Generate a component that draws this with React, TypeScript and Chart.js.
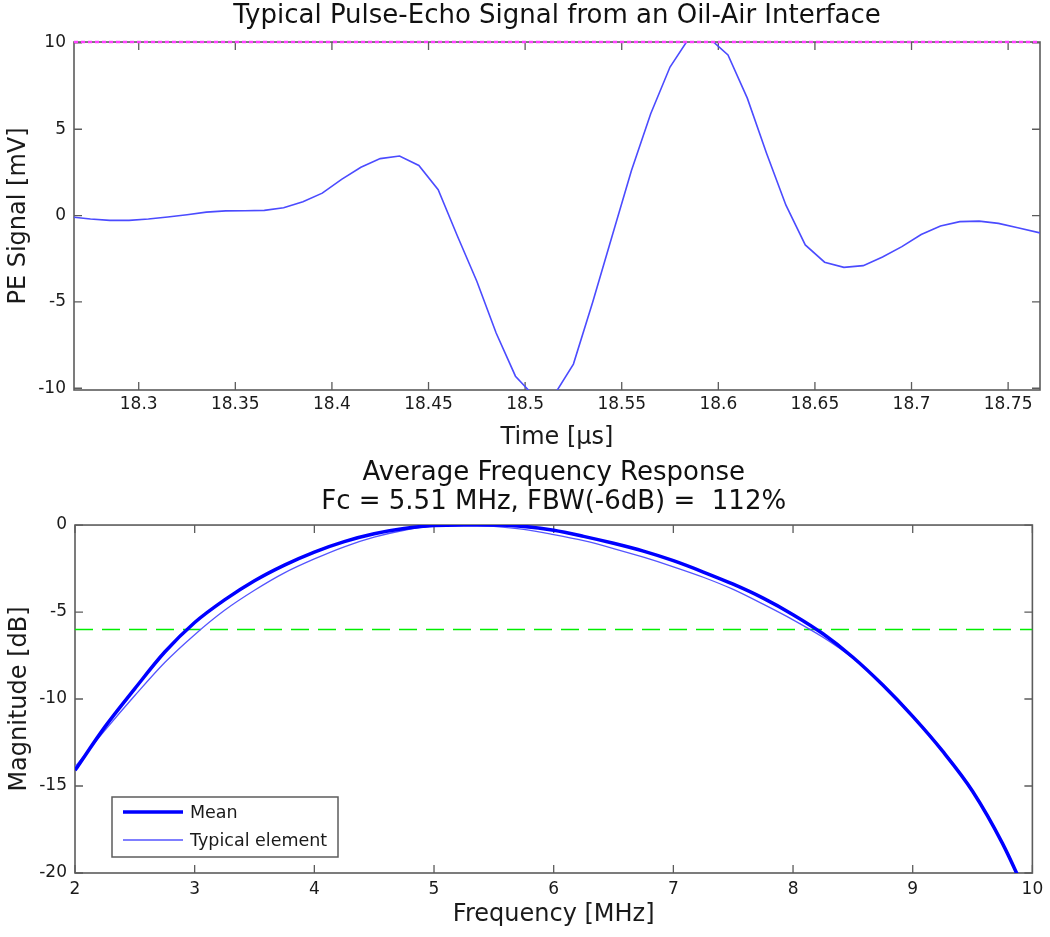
import React, { useEffect, useRef } from 'react';
import { Chart, registerables } from 'chart.js';

Chart.register(...registerables);

// ---------- Top panel: pulse-echo signal ----------
const TIME_US = [
  18.2665, 18.275, 18.285, 18.295, 18.305, 18.315, 18.325, 18.335, 18.345, 18.355,
  18.365, 18.375, 18.385, 18.395, 18.405, 18.415, 18.425, 18.435, 18.445, 18.455,
  18.465, 18.475, 18.485, 18.495, 18.505, 18.515, 18.525, 18.535, 18.545, 18.555,
  18.565, 18.575, 18.585, 18.595, 18.605, 18.615, 18.625, 18.635, 18.645, 18.655,
  18.665, 18.675, 18.685, 18.695, 18.705, 18.715, 18.725, 18.735, 18.745, 18.755,
  18.7665,
];
const PE_SIGNAL_MV = [
  -0.1, -0.2, -0.28, -0.28, -0.2, -0.08, 0.05, 0.2, 0.27, 0.28,
  0.3, 0.45, 0.8, 1.3, 2.1, 2.8, 3.3, 3.45, 2.9, 1.5,
  -1.2, -3.8, -6.8, -9.3, -10.5, -10.4, -8.6, -5.0, -1.2, 2.6,
  5.9, 8.6, 10.3, 10.3, 9.3, 6.8, 3.6, 0.6, -1.7, -2.7,
  -3.0, -2.9, -2.4, -1.8, -1.1, -0.6, -0.35, -0.32, -0.45, -0.7,
  -1.0,
];
const TIME_RANGE = [18.2665, 18.7665];
const TIME_TICKS = [18.3, 18.35, 18.4, 18.45, 18.5, 18.55, 18.6, 18.65, 18.7, 18.75];
const PE_RANGE = [-10.1, 10.05];
const PE_TICKS = [-10, -5, 0, 5, 10];
const CLIP_LEVEL_MV = 10.05;

// ---------- Bottom panel: frequency response ----------
const FREQ_MHZ = [
  2, 2.25, 2.5, 2.75, 3, 3.25, 3.5, 3.75, 4, 4.25, 4.5, 4.75, 5, 5.25, 5.5, 5.75,
  6, 6.25, 6.5, 6.75, 7, 7.25, 7.5, 7.75, 8, 8.25, 8.5, 8.75, 9, 9.25, 9.5, 9.75, 10,
];
const MEAN_DB = [
  -14.1, -11.6, -9.4, -7.3, -5.6, -4.3, -3.2, -2.3, -1.55, -0.95, -0.5, -0.2, -0.03, 0, 0, -0.08,
  -0.3, -0.65, -1.05, -1.5, -2.05, -2.7, -3.4, -4.2, -5.15, -6.25, -7.6, -9.2, -11.0, -13.0, -15.3, -18.3, -22.0,
];
const TYPICAL_DB = [
  -13.9, -11.8, -9.8, -7.9, -6.3, -4.9, -3.75, -2.75, -1.95, -1.25, -0.7, -0.3, -0.05, 0, -0.08, -0.25,
  -0.55, -0.9, -1.35, -1.85, -2.4, -3.0, -3.7, -4.55, -5.45, -6.45, -7.65, -9.15, -10.95, -12.95, -15.25, -18.25, -22.0,
];
const FREQ_RANGE = [2, 10];
const FREQ_TICKS = [2, 3, 4, 5, 6, 7, 8, 9, 10];
const MAG_RANGE = [-20, 0];
const MAG_TICKS = [-20, -15, -10, -5, 0];
const HALF_LEVEL_DB = -6;
const LEGEND_LABELS = ['Mean', 'Typical element'];

const FONT = 'DejaVu Sans';
const TEXT = '#1a1a1a';
const AXIS = '#5c5c5c';

const matlabAxes = {
  id: 'matlabAxes',
  beforeDatasetsDraw(chart: any) {
    const { ctx, chartArea: a, scales } = chart;
    ctx.save();
    ctx.strokeStyle = AXIS;
    ctx.lineWidth = 1.6;
    ctx.strokeRect(a.left, a.top, a.right - a.left, a.bottom - a.top);
    const L = 8;
    ctx.lineWidth = 1.3;
    ctx.beginPath();
    scales.x.ticks.forEach((t: any) => {
      const px = scales.x.getPixelForValue(t.value);
      ctx.moveTo(px, a.bottom);
      ctx.lineTo(px, a.bottom - L);
      ctx.moveTo(px, a.top);
      ctx.lineTo(px, a.top + L);
    });
    scales.y.ticks.forEach((t: any) => {
      const py = scales.y.getPixelForValue(t.value);
      ctx.moveTo(a.left, py);
      ctx.lineTo(a.left + L, py);
      ctx.moveTo(a.right, py);
      ctx.lineTo(a.right - L, py);
    });
    ctx.stroke();
    ctx.restore();
  },
};

const boxLegend = {
  id: 'boxLegend',
  afterDatasetsDraw(chart: any) {
    const items = chart.data.datasets.filter((d: any) => LEGEND_LABELS.includes(d.label));
    if (!items.length) return;
    const { ctx, chartArea: a } = chart;
    const bx = a.left + 37;
    const by = a.bottom - 76;
    const bw = 226;
    const bh = 60;
    ctx.save();
    ctx.fillStyle = '#ffffff';
    ctx.fillRect(bx, by, bw, bh);
    ctx.strokeStyle = AXIS;
    ctx.lineWidth = 1.5;
    ctx.strokeRect(bx, by, bw, bh);
    items.forEach((d: any, i: number) => {
      const y = by + 15 + i * 28;
      ctx.strokeStyle = d.borderColor;
      ctx.lineWidth = d.borderWidth;
      ctx.beginPath();
      ctx.moveTo(bx + 11, y);
      ctx.lineTo(bx + 71, y);
      ctx.stroke();
      ctx.fillStyle = TEXT;
      ctx.font = `17.5px "${FONT}"`;
      ctx.textBaseline = 'middle';
      ctx.textAlign = 'left';
      ctx.fillText(d.label, bx + 78, y + 1);
    });
    ctx.restore();
  },
};

function fmt(v: any) {
  return String(Math.round(Number(v) * 1000) / 1000);
}

function axisCfg(opts: any) {
  return {
    type: 'linear',
    min: opts.range[0],
    max: opts.range[1],
    afterBuildTicks: (s: any) => {
      s.ticks = opts.ticks.map((v: number) => ({ value: v }));
    },
    afterFit: opts.afterFit,
    grid: { display: false, drawTicks: false },
    border: { display: false },
    ticks: {
      autoSkip: false,
      maxRotation: 0,
      padding: opts.tickPad,
      color: TEXT,
      font: { family: FONT, size: 17 },
      callback: (v: any) => fmt(v),
    },
    title: {
      display: true,
      text: opts.title,
      color: TEXT,
      font: { family: FONT, size: 24, lineHeight: 1.2 },
      padding: opts.titlePad,
    },
  };
}

function makeTop(canvas: HTMLCanvasElement) {
  return new Chart(canvas, {
    type: 'line',
    data: {
      datasets: [
        {
          label: 'Clip level',
          data: TIME_RANGE.map((t) => ({ x: t, y: CLIP_LEVEL_MV })),
          borderColor: '#ff40ff',
          borderWidth: 2.5,
          borderDash: [4, 3],
          pointRadius: 0,
          clip: 4,
        },
        {
          label: 'PE signal',
          data: TIME_US.map((t, i) => ({ x: t, y: PE_SIGNAL_MV[i] })),
          borderColor: '#4b4bff',
          borderWidth: 1.6,
          pointRadius: 0,
          tension: 0,
        },
      ],
    } as any,
    options: {
      animation: false,
      responsive: false,
      maintainAspectRatio: false,
      events: [],
      layout: { padding: { left: 0, right: 10, top: 0, bottom: 0 } },
      plugins: {
        legend: { display: false },
        tooltip: { enabled: false },
        title: {
          display: true,
          fullSize: false,
          text: 'Typical Pulse-Echo Signal from an Oil-Air Interface',
          color: '#111',
          font: { family: FONT, size: 26, weight: 'normal', lineHeight: 1.12 },
          padding: { top: 1.4, bottom: 11.5 },
        },
      },
      scales: {
        x: axisCfg({
          range: TIME_RANGE,
          ticks: TIME_TICKS,
          title: 'Time [\u00b5s]',
          tickPad: 4.8,
          titlePad: { top: 0, bottom: 2.6 },
          afterFit: (s: any) => {
            s.height = 65;
          },
        }),
        y: axisCfg({
          range: PE_RANGE,
          ticks: PE_TICKS,
          title: 'PE Signal [mV]',
          tickPad: 8,
          titlePad: { top: 4, bottom: 0 },
          afterFit: (s: any) => {
            s.width = 74;
          },
        }),
      },
    } as any,
    plugins: [matlabAxes],
  });
}

function makeBottom(canvas: HTMLCanvasElement) {
  return new Chart(canvas, {
    type: 'line',
    data: {
      datasets: [
        {
          label: 'Mean',
          data: FREQ_MHZ.map((f, i) => ({ x: f, y: MEAN_DB[i] })),
          borderColor: '#0000ff',
          borderWidth: 3.5,
          pointRadius: 0,
          cubicInterpolationMode: 'monotone',
        },
        {
          label: 'Typical element',
          data: FREQ_MHZ.map((f, i) => ({ x: f, y: TYPICAL_DB[i] })),
          borderColor: '#5555ff',
          borderWidth: 1.3,
          pointRadius: 0,
          cubicInterpolationMode: 'monotone',
        },
        {
          label: '-6 dB',
          data: FREQ_RANGE.map((f) => ({ x: f, y: HALF_LEVEL_DB })),
          borderColor: '#00ee00',
          borderWidth: 1.5,
          borderDash: [18, 9],
          pointRadius: 0,
        },
      ],
    } as any,
    options: {
      animation: false,
      responsive: false,
      maintainAspectRatio: false,
      events: [],
      layout: { padding: { left: 0, right: 10, top: 0, bottom: 0 } },
      plugins: {
        legend: { display: false },
        tooltip: { enabled: false },
        title: {
          display: true,
          fullSize: false,
          text: ['Average Frequency Response', 'Fc = 5.51 MHz, FBW(-6dB) =  112%'],
          color: '#111',
          font: { family: FONT, size: 26, weight: 'normal', lineHeight: 1.12 },
          padding: { top: 3.4, bottom: 8.4 },
        },
      },
      scales: {
        x: axisCfg({
          range: FREQ_RANGE,
          ticks: FREQ_TICKS,
          title: 'Frequency [MHz]',
          tickPad: 6.8,
          titlePad: { top: 0, bottom: 7.6 },
          afterFit: (s: any) => {
            s.height = 64;
          },
        }),
        y: axisCfg({
          range: MAG_RANGE,
          ticks: MAG_TICKS,
          title: 'Magnitude [dB]',
          tickPad: 8,
          titlePad: { top: 5, bottom: 0 },
          afterFit: (s: any) => {
            s.width = 75;
          },
        }),
      },
    } as any,
    plugins: [matlabAxes, boxLegend],
  });
}

export default function App() {
  const topRef = useRef<HTMLCanvasElement>(null);
  const botRef = useRef<HTMLCanvasElement>(null);

  useEffect(() => {
    const c1 = makeTop(topRef.current as HTMLCanvasElement);
    const c2 = makeBottom(botRef.current as HTMLCanvasElement);
    return () => {
      c1.destroy();
      c2.destroy();
    };
  }, []);

  return (
    <div style={{ position: 'absolute', left: 0, top: 0, width: 1050, height: 937, background: '#fff' }}>
      <canvas
        ref={topRef}
        width={1050}
        height={455}
        style={{ position: 'absolute', left: 0, top: 0, width: 1050, height: 455, display: 'block' }}
      />
      <canvas
        ref={botRef}
        width={1050}
        height={482}
        style={{ position: 'absolute', left: 0, top: 455, width: 1050, height: 482, display: 'block' }}
      />
    </div>
  );
}
